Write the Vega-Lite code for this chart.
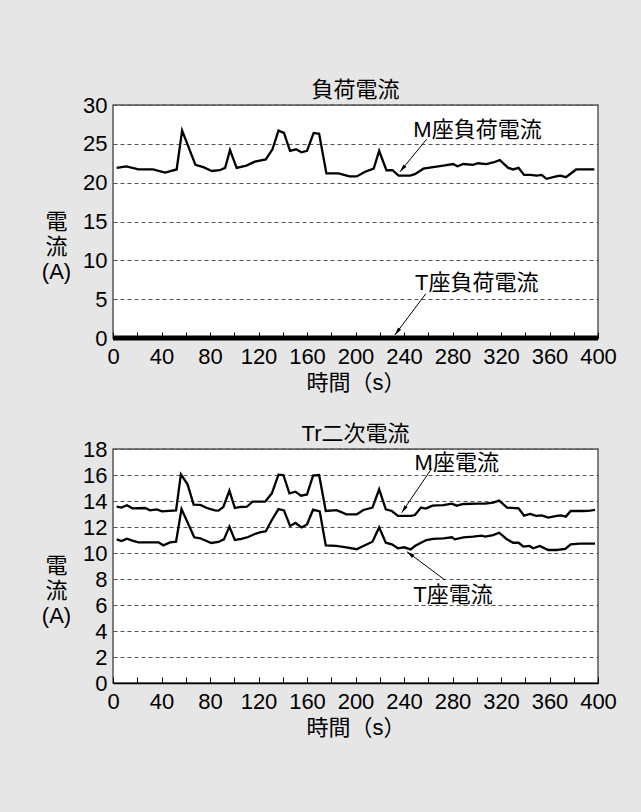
{
  "$schema": "https://vega.github.io/schema/vega-lite/v6.json",
  "background": "#e6e6e6",
  "padding": {"left": 40, "top": 78, "right": 25, "bottom": 75},
  "bounds": "flush",
  "spacing": 111,
  "config": {
    "font": "Liberation Sans, Noto Sans CJK JP, sans-serif",
    "view": {"stroke": "#555", "strokeWidth": 1.5, "fill": "white"},
    "title": {"fontSize": 22, "fontWeight": "normal", "color": "black", "offset": -8},
    "axisX": {
      "values": [0, 20, 40, 60, 80, 100, 120, 140, 160, 180, 200, 220, 240, 260, 280, 300, 320, 340, 360, 380, 400],
      "labelExpr": "datum.value % 40 === 0 ? datum.label : ''",
      "labelOverlap": false,
      "labelFlush": false,
      "labelFontSize": 22,
      "labelColor": "black",
      "labelPadding": 14,
      "tickColor": "black",
      "tickSize": -6,
      "tickWidth": 1,
      "domainColor": "black",
      "domainWidth": 1.5,
      "grid": false,
      "titleFontSize": 22,
      "titleFontWeight": "normal",
      "titleColor": "black",
      "titleX": 242.5,
      "titleY": 44,
      "titleBaseline": "middle",
      "titleAlign": "center"
    },
    "axisY": {
      "grid": true,
      "gridDash": [4, 3],
      "gridColor": "#555",
      "gridWidth": 1,
      "domain": false,
      "ticks": false,
      "labelPadding": 6,
      "labelFontSize": 22,
      "labelColor": "black",
      "titleAngle": 0,
      "titleX": -57,
      "titleY": 116.5,
      "titleAlign": "center",
      "titleBaseline": "middle",
      "titleLineHeight": 25,
      "titleFontSize": 22,
      "titleFontWeight": "normal",
      "titleColor": "black"
    }
  },
  "datasets": {
    "loadM": [
      {"t": 3, "v": 21.9}, {"t": 11, "v": 22.1}, {"t": 21, "v": 21.7}, {"t": 33, "v": 21.7}, {"t": 43, "v": 21.3},
      {"t": 52.5, "v": 21.7}, {"t": 57, "v": 26.7}, {"t": 68, "v": 22.3}, {"t": 74.5, "v": 22.0}, {"t": 81.5, "v": 21.5},
      {"t": 88, "v": 21.6}, {"t": 92.5, "v": 21.9}, {"t": 96.5, "v": 24.2}, {"t": 102, "v": 21.9}, {"t": 110, "v": 22.2},
      {"t": 117, "v": 22.7}, {"t": 126, "v": 23.0}, {"t": 131.5, "v": 24.3}, {"t": 136.5, "v": 26.7}, {"t": 141, "v": 26.4},
      {"t": 146, "v": 24.1}, {"t": 151, "v": 24.3}, {"t": 155.5, "v": 23.9}, {"t": 160, "v": 24.1}, {"t": 165.5, "v": 26.4},
      {"t": 170, "v": 26.3}, {"t": 176, "v": 21.2}, {"t": 186, "v": 21.2}, {"t": 195, "v": 20.8}, {"t": 201, "v": 20.8},
      {"t": 208, "v": 21.4}, {"t": 215, "v": 21.8}, {"t": 219.5, "v": 24.1}, {"t": 225.5, "v": 21.6}, {"t": 230.5, "v": 21.6},
      {"t": 235.5, "v": 20.9}, {"t": 245, "v": 20.9}, {"t": 249, "v": 21.1}, {"t": 256, "v": 21.8}, {"t": 264, "v": 22.0},
      {"t": 272.5, "v": 22.2}, {"t": 280.5, "v": 22.4}, {"t": 284, "v": 22.1}, {"t": 289, "v": 22.4}, {"t": 297, "v": 22.3},
      {"t": 301, "v": 22.5}, {"t": 308, "v": 22.4}, {"t": 313.5, "v": 22.6}, {"t": 319, "v": 22.9}, {"t": 326, "v": 21.9},
      {"t": 330, "v": 21.7}, {"t": 334.5, "v": 21.9}, {"t": 339, "v": 21.0}, {"t": 344, "v": 21.0}, {"t": 349.5, "v": 20.9},
      {"t": 353.5, "v": 21.0}, {"t": 357.5, "v": 20.5}, {"t": 365.5, "v": 20.8}, {"t": 369, "v": 20.9}, {"t": 373.5, "v": 20.7},
      {"t": 382, "v": 21.7}, {"t": 397, "v": 21.7}
    ],
    "loadT": [{"t": 0, "v": 0}, {"t": 400, "v": 0}],
    "trM": [
      {"t": 3, "v": 13.56}, {"t": 7, "v": 13.49}, {"t": 11.5, "v": 13.67}, {"t": 16, "v": 13.44}, {"t": 26.5, "v": 13.46},
      {"t": 30.5, "v": 13.28}, {"t": 36, "v": 13.36}, {"t": 40.5, "v": 13.2}, {"t": 52, "v": 13.28}, {"t": 56, "v": 16.05},
      {"t": 61.5, "v": 15.28}, {"t": 66.5, "v": 13.72}, {"t": 72, "v": 13.7}, {"t": 77.5, "v": 13.46}, {"t": 84, "v": 13.28},
      {"t": 87, "v": 13.26}, {"t": 91, "v": 13.54}, {"t": 96, "v": 14.8}, {"t": 100.5, "v": 13.46}, {"t": 105, "v": 13.54},
      {"t": 110.5, "v": 13.56}, {"t": 115, "v": 13.95}, {"t": 125.5, "v": 13.95}, {"t": 131, "v": 14.59}, {"t": 136.5, "v": 16.03},
      {"t": 140.5, "v": 16.0}, {"t": 145.5, "v": 14.59}, {"t": 150.5, "v": 14.72}, {"t": 155, "v": 14.41}, {"t": 160, "v": 14.5},
      {"t": 165, "v": 15.95}, {"t": 170, "v": 16.0}, {"t": 175.5, "v": 13.23}, {"t": 184.5, "v": 13.3}, {"t": 192.5, "v": 12.97},
      {"t": 201, "v": 12.97}, {"t": 206.5, "v": 13.31}, {"t": 214, "v": 13.49}, {"t": 219.5, "v": 14.9}, {"t": 225, "v": 13.36},
      {"t": 230, "v": 13.23}, {"t": 235, "v": 12.85}, {"t": 246, "v": 12.85}, {"t": 249, "v": 12.92}, {"t": 254, "v": 13.49},
      {"t": 258, "v": 13.41}, {"t": 263.5, "v": 13.64}, {"t": 272.5, "v": 13.69}, {"t": 279.5, "v": 13.79}, {"t": 283.5, "v": 13.64},
      {"t": 289, "v": 13.77}, {"t": 301, "v": 13.8}, {"t": 307, "v": 13.8}, {"t": 313.5, "v": 13.87}, {"t": 318.5, "v": 14.03},
      {"t": 325, "v": 13.49}, {"t": 334.5, "v": 13.44}, {"t": 339, "v": 12.87}, {"t": 344, "v": 13.0}, {"t": 349, "v": 12.85},
      {"t": 353.5, "v": 12.9}, {"t": 359, "v": 12.72}, {"t": 366, "v": 12.85}, {"t": 369.5, "v": 12.9}, {"t": 373.5, "v": 12.8},
      {"t": 377.5, "v": 13.23}, {"t": 388, "v": 13.23}, {"t": 393.5, "v": 13.26}, {"t": 397.5, "v": 13.31}
    ],
    "trT": [
      {"t": 3, "v": 11.05}, {"t": 7, "v": 10.92}, {"t": 11.5, "v": 11.1}, {"t": 16, "v": 10.95}, {"t": 21, "v": 10.82},
      {"t": 37.5, "v": 10.82}, {"t": 41.5, "v": 10.59}, {"t": 47, "v": 10.82}, {"t": 52, "v": 10.87}, {"t": 56.5, "v": 13.38},
      {"t": 67, "v": 11.21}, {"t": 72, "v": 11.13}, {"t": 81, "v": 10.77}, {"t": 87, "v": 10.85}, {"t": 91.5, "v": 11.05},
      {"t": 96, "v": 12.03}, {"t": 100.5, "v": 11.0}, {"t": 106, "v": 11.08}, {"t": 111.5, "v": 11.23}, {"t": 117, "v": 11.46},
      {"t": 121, "v": 11.59}, {"t": 126, "v": 11.67}, {"t": 131, "v": 12.54}, {"t": 136.5, "v": 13.38}, {"t": 141, "v": 13.28},
      {"t": 146, "v": 12.08}, {"t": 150.5, "v": 12.31}, {"t": 155.5, "v": 11.97}, {"t": 160, "v": 12.2}, {"t": 165, "v": 13.33},
      {"t": 170.5, "v": 13.2}, {"t": 175.5, "v": 10.59}, {"t": 184, "v": 10.55}, {"t": 192.5, "v": 10.44}, {"t": 201, "v": 10.29},
      {"t": 206.5, "v": 10.54}, {"t": 214, "v": 10.87}, {"t": 219.5, "v": 11.97}, {"t": 225, "v": 10.79}, {"t": 230, "v": 10.67},
      {"t": 235, "v": 10.36}, {"t": 240, "v": 10.44}, {"t": 245.5, "v": 10.28}, {"t": 249, "v": 10.54}, {"t": 254, "v": 10.79},
      {"t": 258.5, "v": 11.0}, {"t": 264, "v": 11.08}, {"t": 272.5, "v": 11.13}, {"t": 279.5, "v": 11.21}, {"t": 282, "v": 11.05},
      {"t": 289, "v": 11.21}, {"t": 297, "v": 11.26}, {"t": 304, "v": 11.33}, {"t": 307, "v": 11.26}, {"t": 313.5, "v": 11.38},
      {"t": 318.5, "v": 11.56}, {"t": 324.5, "v": 11.08}, {"t": 330, "v": 10.79}, {"t": 334.5, "v": 10.79}, {"t": 338.5, "v": 10.49},
      {"t": 343.5, "v": 10.54}, {"t": 346.5, "v": 10.36}, {"t": 352, "v": 10.54}, {"t": 359, "v": 10.23}, {"t": 366, "v": 10.23},
      {"t": 373, "v": 10.31}, {"t": 377.5, "v": 10.67}, {"t": 385, "v": 10.72}, {"t": 397.5, "v": 10.72}
    ],
    "labels1": [
      {"id": "M", "label": "M座負荷電流", "x": 300.6, "y": 26.8},
      {"id": "T", "label": "T座負荷電流", "x": 300, "y": 7.1}
    ],
    "arrows1": [
      {"id": "M", "x1": 258.7, "y1": 25.6, "x2": 236.7, "y2": 21.4},
      {"id": "T", "x1": 258, "y1": 5.7, "x2": 232.5, "y2": 0.4}
    ],
    "labels2": [
      {"id": "M", "label": "M座電流", "x": 283.5, "y": 16.9},
      {"id": "T", "label": "T座電流", "x": 280.4, "y": 6.77}
    ],
    "arrows2": [
      {"id": "M", "x1": 262.8, "y1": 16.5, "x2": 238.1, "y2": 13.1},
      {"id": "T", "x1": 273.8, "y1": 7.92, "x2": 242.5, "y2": 10.1}
    ]
  },
  "vconcat": [
    {
      "width": 485,
      "height": 233,
      "title": "負荷電流",
      "encoding": {
        "x": {"type": "quantitative", "scale": {"domain": [0, 400]}, "title": "時間（s）"},
        "y": {"type": "quantitative", "scale": {"domain": [0, 30]}, "axis": {"values": [0, 5, 10, 15, 20, 25, 30]}, "title": ["電", "流", "(A)"]}
      },
      "layer": [
        {
          "data": {"name": "loadM"},
          "mark": {"type": "line", "color": "black", "strokeWidth": 2.3},
          "encoding": {"x": {"field": "t"}, "y": {"field": "v"}}
        },
        {
          "data": {"name": "loadT"},
          "mark": {"type": "line", "color": "black", "strokeWidth": 5, "clip": false},
          "encoding": {"x": {"field": "t"}, "y": {"field": "v"}}
        },
        {
          "data": {"name": "labels1"},
          "mark": {"type": "text", "fontSize": 22, "color": "black"},
          "encoding": {"x": {"field": "x"}, "y": {"field": "y"}, "text": {"field": "label", "type": "nominal"}}
        },
        {
          "data": {"name": "arrows1"},
          "mark": {"type": "rule", "color": "black", "strokeWidth": 1},
          "encoding": {"x": {"field": "x1"}, "y": {"field": "y1"}, "x2": {"field": "x2"}, "y2": {"field": "y2"}}
        },
        {
          "data": {"name": "arrows1"},
          "transform": [{"filter": "datum.id == 'M'"}],
          "mark": {"type": "point", "shape": "M0,0L-0.5,2L0.5,2Z", "size": 60, "filled": true, "color": "black", "opacity": 1, "angle": 219.5},
          "encoding": {"x": {"field": "x2"}, "y": {"field": "y2"}}
        },
        {
          "data": {"name": "arrows1"},
          "transform": [{"filter": "datum.id == 'T'"}],
          "mark": {"type": "point", "shape": "M0,0L-0.5,2L0.5,2Z", "size": 60, "filled": true, "color": "black", "opacity": 1, "angle": 216.8},
          "encoding": {"x": {"field": "x2"}, "y": {"field": "y2"}}
        }
      ]
    },
    {
      "width": 485,
      "height": 234,
      "title": "Tr二次電流",
      "encoding": {
        "x": {"type": "quantitative", "scale": {"domain": [0, 400]}, "title": "時間（s）"},
        "y": {"type": "quantitative", "scale": {"domain": [0, 18]}, "axis": {"values": [0, 2, 4, 6, 8, 10, 12, 14, 16, 18]}, "title": ["電", "流", "(A)"]}
      },
      "layer": [
        {
          "data": {"name": "trM"},
          "mark": {"type": "line", "color": "black", "strokeWidth": 2.3},
          "encoding": {"x": {"field": "t"}, "y": {"field": "v"}}
        },
        {
          "data": {"name": "trT"},
          "mark": {"type": "line", "color": "black", "strokeWidth": 2.3},
          "encoding": {"x": {"field": "t"}, "y": {"field": "v"}}
        },
        {
          "data": {"name": "labels2"},
          "mark": {"type": "text", "fontSize": 22, "color": "black"},
          "encoding": {"x": {"field": "x"}, "y": {"field": "y"}, "text": {"field": "label", "type": "nominal"}}
        },
        {
          "data": {"name": "arrows2"},
          "mark": {"type": "rule", "color": "black", "strokeWidth": 1},
          "encoding": {"x": {"field": "x1"}, "y": {"field": "y1"}, "x2": {"field": "x2"}, "y2": {"field": "y2"}}
        },
        {
          "data": {"name": "arrows2"},
          "transform": [{"filter": "datum.id == 'M'"}],
          "mark": {"type": "point", "shape": "M0,0L-0.5,2L0.5,2Z", "size": 60, "filled": true, "color": "black", "opacity": 1, "angle": 214},
          "encoding": {"x": {"field": "x2"}, "y": {"field": "y2"}}
        },
        {
          "data": {"name": "arrows2"},
          "transform": [{"filter": "datum.id == 'T'"}],
          "mark": {"type": "point", "shape": "M0,0L-0.5,2L0.5,2Z", "size": 60, "filled": true, "color": "black", "opacity": 1, "angle": 306.7},
          "encoding": {"x": {"field": "x2"}, "y": {"field": "y2"}}
        }
      ]
    }
  ]
}
